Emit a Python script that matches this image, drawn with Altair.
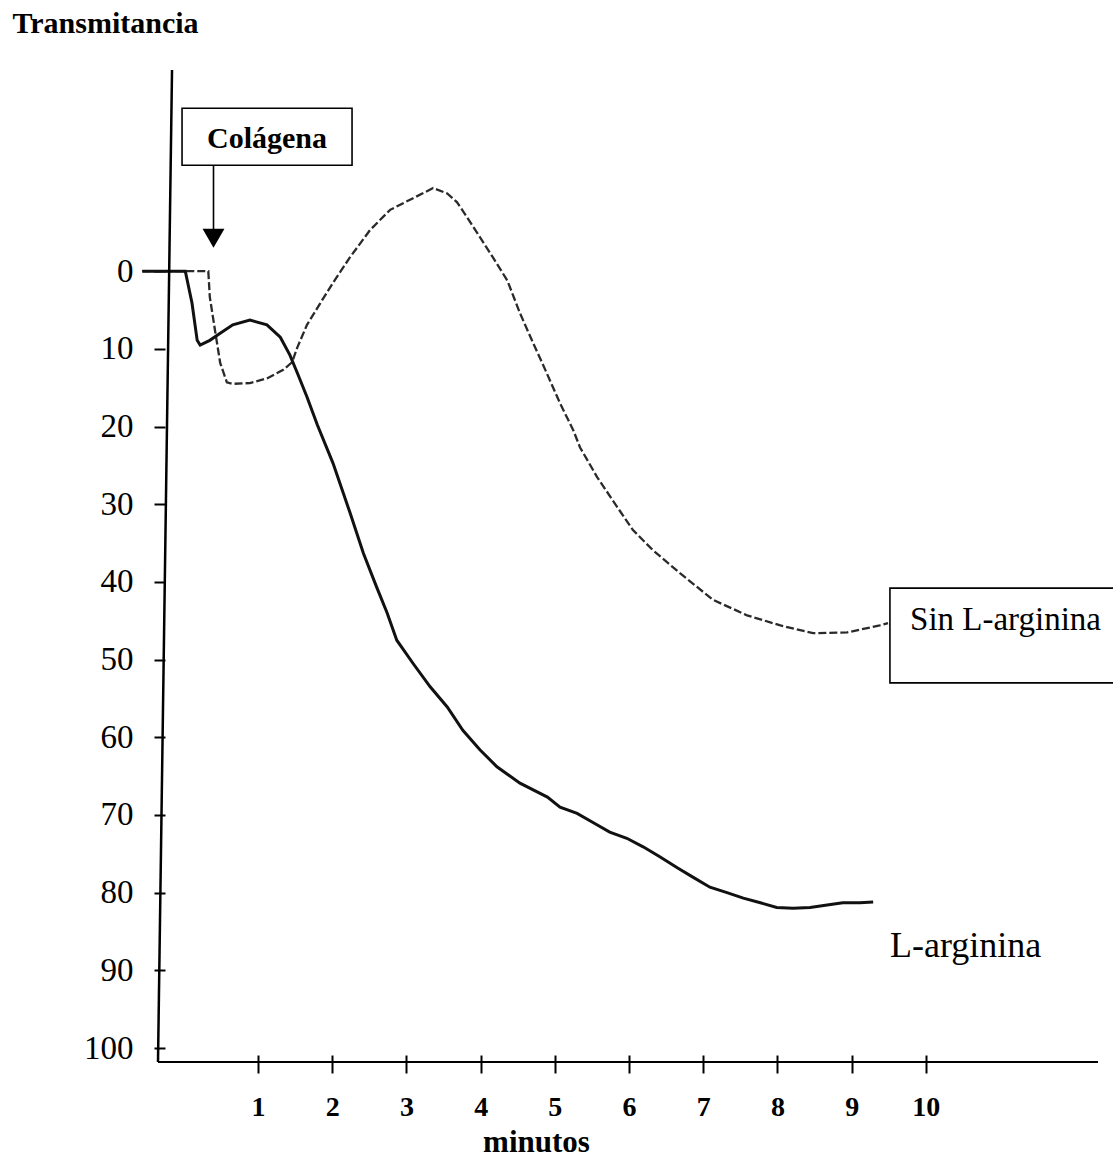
import altair as alt
import pandas as pd

# ---- data (minutes, transmitancia) ----
sin_t = [-0.56, 0.33, 0.35, 0.42, 0.49, 0.58, 0.66, 0.89, 1.12, 1.34, 1.46, 1.53, 1.66, 1.84,
         2.01, 2.24, 2.51, 2.78, 3.09, 3.36, 3.55, 3.68, 3.82, 3.99, 4.17, 4.36, 4.53, 4.71,
         4.89, 5.07, 5.25, 5.34, 5.57, 5.78, 6.05, 6.32, 6.69, 7.13, 7.59, 8.04, 8.48, 8.94,
         9.38, 9.49]
sin_v = [0, 0, 3.3, 7.6, 11.8, 14.3, 14.5, 14.4, 13.8, 12.7, 11.7, 9.8, 6.9, 4.1,
         1.5, -1.8, -5.3, -7.9, -9.4, -10.7, -10.0, -8.9, -6.9, -4.4, -1.7, 1.2, 5.4, 9.3,
         13.1, 17.0, 20.5, 22.7, 26.5, 29.5, 33.3, 35.9, 38.9, 42.3, 44.3, 45.6, 46.6, 46.5,
         45.6, 45.3]

arg_t = [-0.56, 0.02, 0.11, 0.18, 0.22, 0.35, 0.49, 0.66, 0.89, 1.12, 1.30, 1.43, 1.53, 1.66,
         1.80, 2.01, 2.24, 2.42, 2.60, 2.74, 2.87, 3.09, 3.32, 3.55, 3.76, 3.99, 4.22, 4.53,
         4.90, 5.07, 5.30, 5.52, 5.74, 5.97, 6.19, 6.42, 6.65, 6.86, 7.09, 7.32, 7.54, 7.77,
         7.99, 8.21, 8.44, 8.67, 8.88, 9.11, 9.29]
arg_v = [0, 0, 4.1, 8.9, 9.5, 8.9, 8.0, 6.9, 6.3, 6.9, 8.5, 10.8, 13.1, 16.2,
         19.8, 24.7, 31.1, 36.3, 40.7, 44.0, 47.5, 50.5, 53.5, 56.1, 59.1, 61.6, 63.8, 65.9,
         67.7, 69.0, 69.8, 71.0, 72.2, 73.0, 74.1, 75.4, 76.8, 78.0, 79.3, 80.0, 80.7, 81.3,
         81.9, 82.0, 81.9, 81.6, 81.3, 81.3, 81.2]

x_ticks = list(range(1, 11))
y_ticks = list(range(0, 101, 10))

x_domain = [-0.348, 12.32]
y_domain = [-25.9, 101.8]

# annotation boxes / labels (data coordinates)
box_x = [-0.024, 9.516]
box_x2 = [2.267, 12.6]
box_y = [-20.98, 40.8]
box_y2 = [-13.64, 53.0]

label_text = ["Colágena", "Sin L-arginina", "L-arginina"]
label_x = [1.121, 9.787, 9.516]
label_y = [-15.83, 46.2, 88.3]

arrow_x = [0.40]
arrow_y = [-13.64]
arrow_y2 = [-5.3]
arrow_head_y = [-4.25]

FONT = "Liberation Serif"

xs = alt.Scale(domain=x_domain, nice=False, zero=False)
ys = alt.Scale(domain=y_domain, reverse=True, nice=False, zero=False)

x_axis = alt.Axis(values=x_ticks, domain=False, offset=-7, tickSize=18, tickWidth=2,
                  tickColor="black", labelFont=FONT, labelFontSize=28, labelFontWeight="bold",
                  labelColor="black", labelPadding=20, grid=False,
                  title="minutos", titleFont=FONT, titleFontSize=31, titleFontWeight="bold",
                  titleColor="black", titleX=378, titleY=96, titleBaseline="alphabetic",
                  titleAlign="center")
y_axis = alt.Axis(values=y_ticks, domain=False, offset=-7, tickSize=11, tickWidth=2,
                  tickColor="black", labelFont=FONT, labelFontSize=33, labelColor="black",
                  labelPadding=21, grid=False,
                  title="Transmitancia", titleFont=FONT, titleFontSize=30, titleFontWeight="bold",
                  titleColor="black", titleAngle=0, titleAlign="left", titleBaseline="alphabetic",
                  titleX=-153, titleY=-38)


def X(field):
    return alt.X(field, scale=xs, axis=x_axis)


def Y(field):
    return alt.Y(field, scale=ys, axis=y_axis)


sin_df = pd.DataFrame({"t": sin_t, "v": sin_v, "o": range(len(sin_t))})
arg_df = pd.DataFrame({"t": arg_t, "v": arg_v, "o": range(len(arg_t))})

sin_line = alt.Chart(sin_df).mark_line(color="#2a2a2a", strokeWidth=2.3, strokeDash=[8, 3]).encode(
    x=X("t:Q"), y=Y("v:Q"), order="o:Q")
arg_line = alt.Chart(arg_df).mark_line(color="#111111", strokeWidth=3).encode(
    x=X("t:Q"), y=Y("v:Q"), order="o:Q")

# axis lines
xaxis_df = pd.DataFrame({"t": [x_domain[0]], "t2": [x_domain[1]], "v": [y_domain[1]]})
xaxis_line = alt.Chart(xaxis_df).mark_rule(color="black", strokeWidth=2).encode(
    x=X("t:Q"), x2="t2:Q", y=Y("v:Q"))
yaxis_df = pd.DataFrame({"t": [-0.159], "t2": [x_domain[0]], "v": [y_domain[0]], "v2": [y_domain[1]]})
yaxis_line = alt.Chart(yaxis_df).mark_rule(color="black", strokeWidth=2.5).encode(
    x=X("t:Q"), x2="t2:Q", y=Y("v:Q"), y2="v2:Q")

box_df = pd.DataFrame({"t": box_x, "t2": box_x2, "v": box_y, "v2": box_y2})
boxes = alt.Chart(box_df).mark_rect(fillOpacity=0, stroke="black", strokeWidth=1.6).encode(
    x=X("t:Q"), x2="t2:Q", y=Y("v:Q"), y2="v2:Q")

lab_df = pd.DataFrame({"text": label_text, "t": label_x, "v": label_y})
col_label = alt.Chart(lab_df.iloc[[0]]).mark_text(font=FONT, fontSize=30, fontWeight="bold",
                                                  align="center", baseline="alphabetic",
                                                  color="black").encode(
    x=X("t:Q"), y=Y("v:Q"), text="text:N")
sin_label = alt.Chart(lab_df.iloc[[1]]).mark_text(font=FONT, fontSize=33, align="left",
                                                  baseline="alphabetic", color="black").encode(
    x=X("t:Q"), y=Y("v:Q"), text="text:N")
arg_label = alt.Chart(lab_df.iloc[[2]]).mark_text(font=FONT, fontSize=36, align="left",
                                                  baseline="alphabetic", color="black").encode(
    x=X("t:Q"), y=Y("v:Q"), text="text:N")

arrow_df = pd.DataFrame({"t": arrow_x, "v": arrow_y, "v2": arrow_y2, "vh": arrow_head_y})
arrow_line = alt.Chart(arrow_df).mark_rule(color="black", strokeWidth=1.6).encode(
    x=X("t:Q"), y=Y("v:Q"), y2="v2:Q")
arrow_head = alt.Chart(arrow_df).mark_point(shape="triangle-down", size=480, filled=True,
                                            color="black", opacity=1).encode(
    x=X("t:Q"), y=Y("vh:Q"))

chart = alt.layer(
    sin_line, arg_line, xaxis_line, yaxis_line, boxes, col_label, sin_label, arg_label,
    arrow_line, arrow_head
).properties(
    width=940, height=992,
    autosize=alt.AutoSizeParams(type="none"),
    padding={"left": 158, "top": 70, "right": 15, "bottom": 103},
    background="white",
).configure_view(stroke=None)

chart.save("out.html", embed_options={"renderer": "svg", "actions": False})
